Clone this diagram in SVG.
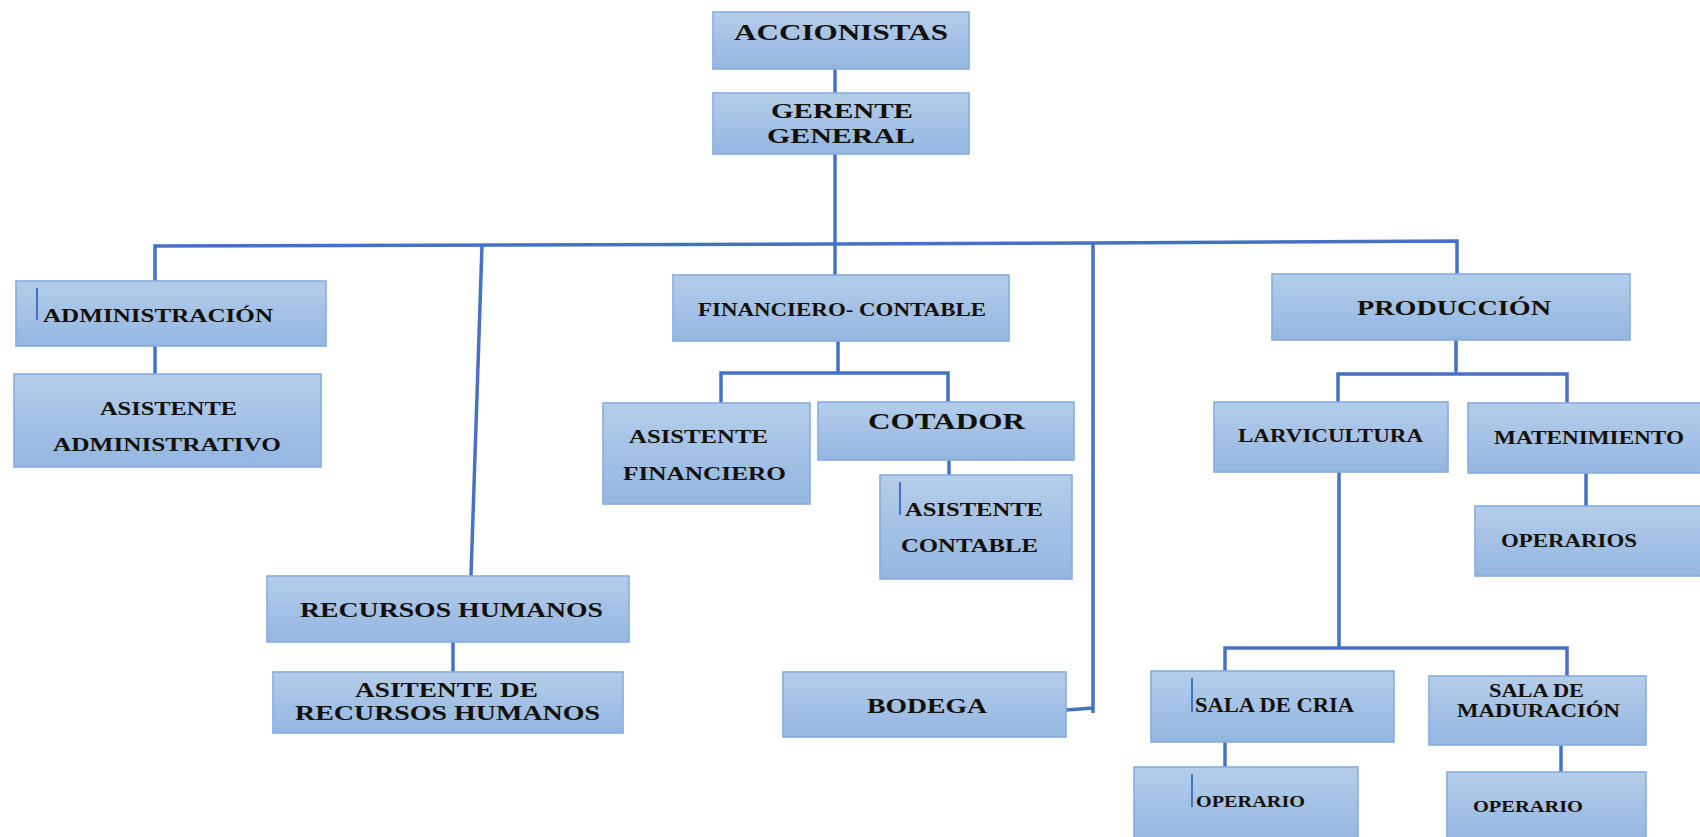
<svg xmlns="http://www.w3.org/2000/svg" width="1700" height="837" viewBox="0 0 1700 837">
<defs>
<linearGradient id="bx" x1="0" y1="0" x2="0" y2="1">
<stop offset="0" stop-color="#b5cdea"/>
<stop offset="1" stop-color="#93b6e1"/>
</linearGradient>
<style>
.box{fill:url(#bx);stroke:#86addf;stroke-width:1.6}
.ln{fill:none;stroke:#4672c6;stroke-width:3.5;stroke-linejoin:miter}
.cur{stroke:#4672c6;stroke-width:2}
text{font-family:"Liberation Serif","Times New Roman",serif;font-weight:bold;fill:#141008}
.t16{font-size:17px}
.t17{font-size:18px}
.t19{font-size:20px}
.t21{font-size:22px}
.t22{font-size:24px}
</style>
</defs>
<rect width="1700" height="837" fill="#ffffff"/>
<g id="connectors">
<path class="ln" d="M835 69V93"/>
<path class="ln" d="M835 154V276"/>
<path class="ln" d="M155 281V246L835 244L1093 243L1457 241V274"/>
<path class="ln" d="M482 245L471 576"/>
<path class="ln" d="M1093 243V713M1066 710L1093 708"/>
<path class="ln" d="M155 346V374"/>
<path class="ln" d="M838 341V373M721 403V373H948V402"/>
<path class="ln" d="M949 460V475"/>
<path class="ln" d="M1456 340V374M1338 402V374H1567V403"/>
<path class="ln" d="M1586 473V506"/>
<path class="ln" d="M1339 472V648M1225 671V648H1567V676"/>
<path class="ln" d="M1225 742V767"/>
<path class="ln" d="M1561 745V772"/>
<path class="ln" d="M453 642V672"/>
</g>
<g id="accionistas">
<rect class="box" x="713" y="12" width="256" height="57"/>
<text class="t22" x="734" y="40" textLength="214" lengthAdjust="spacingAndGlyphs">ACCIONISTAS</text>
</g>
<g id="gerente">
<rect class="box" x="713" y="93" width="256" height="61"/>
<text class="t21" x="771" y="118" textLength="142" lengthAdjust="spacingAndGlyphs">GERENTE</text>
<text class="t21" x="767" y="143" textLength="148" lengthAdjust="spacingAndGlyphs">GENERAL</text>
</g>
<g id="administracion">
<rect class="box" x="16" y="281" width="310" height="65"/>
<line class="cur" x1="37" y1="288" x2="37" y2="320"/>
<text class="t17" x="43" y="322" textLength="230" lengthAdjust="spacingAndGlyphs">ADMINISTRACIÓN</text>
</g>
<g id="asistente-administrativo">
<rect class="box" x="14" y="374" width="307" height="93"/>
<text class="t17" x="100" y="415" textLength="137" lengthAdjust="spacingAndGlyphs">ASISTENTE</text>
<text class="t17" x="53" y="451" textLength="228" lengthAdjust="spacingAndGlyphs">ADMINISTRATIVO</text>
</g>
<g id="financiero-contable">
<rect class="box" x="673" y="275" width="336" height="66"/>
<text class="t17" x="698" y="316" textLength="288" lengthAdjust="spacingAndGlyphs">FINANCIERO- CONTABLE</text>
</g>
<g id="asistente-financiero">
<rect class="box" x="603" y="403" width="207" height="101"/>
<text class="t17" x="629" y="443" textLength="139" lengthAdjust="spacingAndGlyphs">ASISTENTE</text>
<text class="t17" x="623" y="480" textLength="163" lengthAdjust="spacingAndGlyphs">FINANCIERO</text>
</g>
<g id="cotador">
<rect class="box" x="818" y="402" width="256" height="58"/>
<text class="t22" x="868" y="429" textLength="157" lengthAdjust="spacingAndGlyphs">COTADOR</text>
</g>
<g id="asistente-contable">
<rect class="box" x="880" y="475" width="192" height="104"/>
<line class="cur" x1="900" y1="482" x2="900" y2="515"/>
<text class="t17" x="905" y="516" textLength="138" lengthAdjust="spacingAndGlyphs">ASISTENTE</text>
<text class="t17" x="901" y="552" textLength="137" lengthAdjust="spacingAndGlyphs">CONTABLE</text>
</g>
<g id="produccion">
<rect class="box" x="1272" y="274" width="358" height="66"/>
<text class="t21" x="1357" y="315" textLength="194" lengthAdjust="spacingAndGlyphs">PRODUCCIÓN</text>
</g>
<g id="larvicultura">
<rect class="box" x="1214" y="402" width="234" height="70"/>
<text class="t17" x="1238" y="442" textLength="185" lengthAdjust="spacingAndGlyphs">LARVICULTURA</text>
</g>
<g id="matenimiento">
<rect class="box" x="1468" y="403" width="240" height="70"/>
<text class="t17" x="1494" y="444" textLength="190" lengthAdjust="spacingAndGlyphs">MATENIMIENTO</text>
</g>
<g id="operarios">
<rect class="box" x="1475" y="506" width="233" height="70"/>
<text class="t17" x="1501" y="547" textLength="136" lengthAdjust="spacingAndGlyphs">OPERARIOS</text>
</g>
<g id="recursos-humanos">
<rect class="box" x="267" y="576" width="362" height="66"/>
<text class="t21" x="300" y="617" textLength="303" lengthAdjust="spacingAndGlyphs">RECURSOS HUMANOS</text>
</g>
<g id="asistente-rrhh">
<rect class="box" x="273" y="672" width="350" height="61"/>
<text class="t21" x="355" y="697" textLength="183" lengthAdjust="spacingAndGlyphs">ASITENTE DE</text>
<text class="t21" x="295" y="720" textLength="305" lengthAdjust="spacingAndGlyphs">RECURSOS HUMANOS</text>
</g>
<g id="bodega">
<rect class="box" x="783" y="672" width="283" height="65"/>
<text class="t21" x="867" y="713" textLength="120" lengthAdjust="spacingAndGlyphs">BODEGA</text>
</g>
<g id="sala-cria">
<rect class="box" x="1151" y="671" width="243" height="71"/>
<line class="cur" x1="1192" y1="678" x2="1192" y2="712"/>
<text class="t19" x="1195" y="712" textLength="159" lengthAdjust="spacingAndGlyphs">SALA DE CRIA</text>
</g>
<g id="sala-maduracion">
<rect class="box" x="1429" y="676" width="217" height="69"/>
<text class="t17" x="1489" y="697" textLength="95" lengthAdjust="spacingAndGlyphs">SALA DE</text>
<text class="t17" x="1457" y="717" textLength="163" lengthAdjust="spacingAndGlyphs">MADURACIÓN</text>
</g>
<g id="operario-cria">
<rect class="box" x="1134" y="767" width="224" height="75"/>
<line class="cur" x1="1192" y1="774" x2="1192" y2="807"/>
<text class="t16" x="1196" y="807" textLength="109" lengthAdjust="spacingAndGlyphs">OPERARIO</text>
</g>
<g id="operario-maduracion">
<rect class="box" x="1447" y="772" width="199" height="70"/>
<text class="t16" x="1473" y="812" textLength="110" lengthAdjust="spacingAndGlyphs">OPERARIO</text>
</g>
</svg>
